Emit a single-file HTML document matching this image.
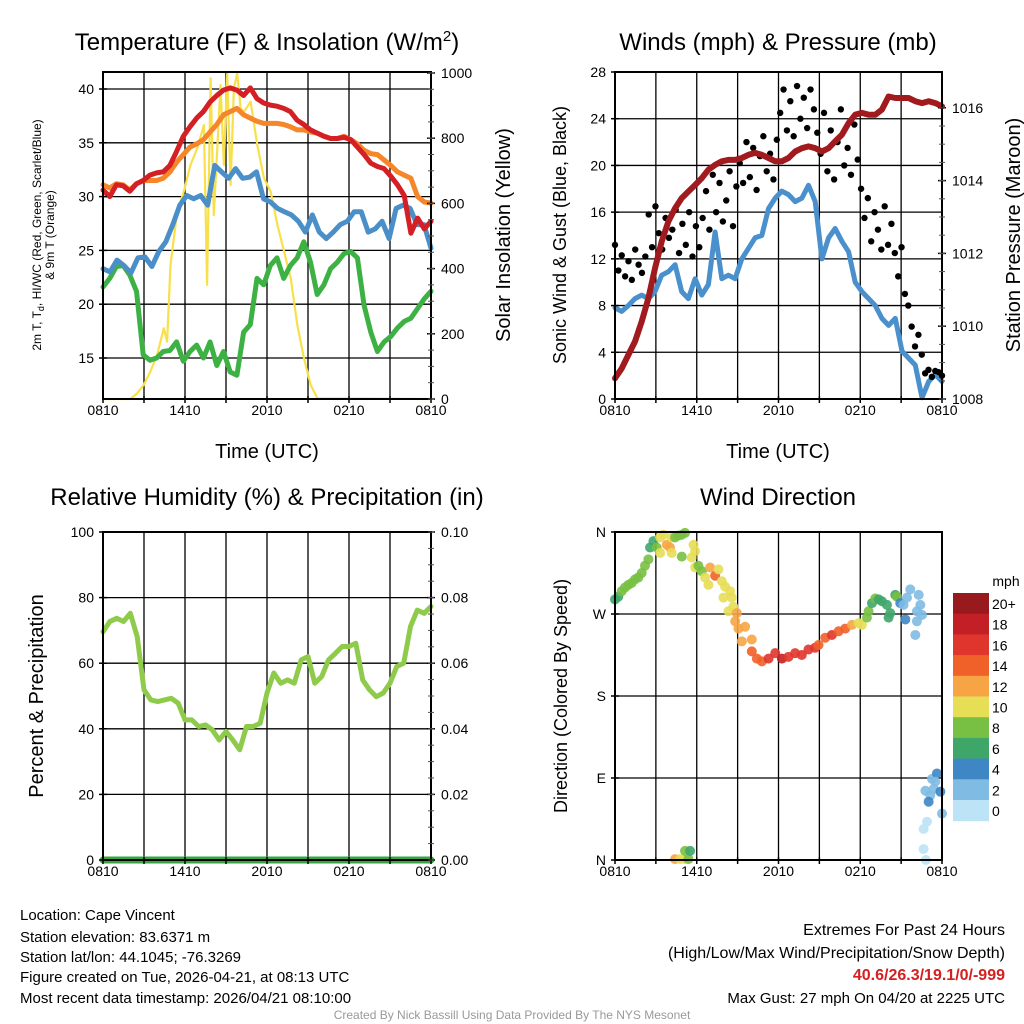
<!DOCTYPE html>
<html><head><meta charset="utf-8">
<style>
html,body{margin:0;padding:0;background:#fff;}
svg{display:block;font-family:"Liberation Sans",sans-serif;}
</style></head>
<body>
<svg id="chart" width="1024" height="1024" viewBox="0 0 1024 1024" xmlns="http://www.w3.org/2000/svg">
<rect x="0" y="0" width="1024" height="1024" fill="#fff"/>
<g id="layer"></g>
<!-- titles -->
<text x="267" y="50" font-size="24" text-anchor="middle">Temperature (F) &amp; Insolation (W/m<tspan dy="-9" font-size="15">2</tspan><tspan dy="9">)</tspan></text>
<text x="778" y="50" font-size="24" text-anchor="middle">Winds (mph) &amp; Pressure (mb)</text>
<text x="267" y="505" font-size="24" text-anchor="middle">Relative Humidity (%) &amp; Precipitation (in)</text>
<text x="778" y="505" font-size="24" text-anchor="middle">Wind Direction</text>
<!-- axis titles -->
<text x="267" y="458" font-size="20" text-anchor="middle">Time (UTC)</text>
<text x="778" y="458" font-size="20" text-anchor="middle">Time (UTC)</text>
<text transform="translate(41,235) rotate(-90)" font-size="12" text-anchor="middle">2m T, T<tspan dy="3" font-size="9">d</tspan><tspan dy="-3">, HI/WC (Red, Green, Scarlet/Blue)</tspan></text>
<text transform="translate(54,235) rotate(-90)" font-size="12" text-anchor="middle">&amp; 9m T (Orange)</text>
<text transform="translate(510,235) rotate(-90)" font-size="20" text-anchor="middle">Solar Insolation (Yellow)</text>
<text transform="translate(566,235) rotate(-90)" font-size="18" text-anchor="middle">Sonic Wind &amp; Gust (Blue, Black)</text>
<text transform="translate(1020,235) rotate(-90)" font-size="20" text-anchor="middle">Station Pressure (Maroon)</text>
<text transform="translate(43,696) rotate(-90)" font-size="20" text-anchor="middle">Percent &amp; Precipitation</text>
<text transform="translate(567,696) rotate(-90)" font-size="18" text-anchor="middle">Direction (Colored By Speed)</text>
<!-- footer -->
<g font-size="15">
<text x="20" y="920">Location: Cape Vincent</text>
<text x="20" y="942">Station elevation: 83.6371 m</text>
<text x="20" y="962">Station lat/lon: 44.1045; -76.3269</text>
<text x="20" y="982">Figure created on Tue, 2026-04-21, at 08:13 UTC</text>
<text x="20" y="1003">Most recent data timestamp: 2026/04/21 08:10:00</text>
</g>
<g font-size="16" text-anchor="end">
<text x="1005" y="935">Extremes For Past 24 Hours</text>
<text x="1005" y="958">(High/Low/Max Wind/Precipitation/Snow Depth)</text>
<text x="1005" y="980" fill="#d42020" font-weight="bold">40.6/26.3/19.1/0/-999</text>
<text x="1005" y="1003" font-size="15">Max Gust: 27 mph On 04/20 at 2225 UTC</text>
</g>
<text x="512" y="1019" font-size="12" fill="#999" text-anchor="middle">Created By Nick Bassill Using Data Provided By The NYS Mesonet</text>
</svg>
<script>
// ---------- data ----------
const xTickLabels = ["0810","1410","2010","0210","0810"];
const tempTicks = [15,20,25,30,35,40];
const solarTicks = [0,200,400,600,800,1000];
const windTicks = [0,4,8,12,16,20,24,28];
const presTicks = [1008,1010,1012,1014,1016];
const rhTicks = [0,20,40,60,80,100];
const precipTicks = ["0.00","0.02","0.04","0.06","0.08","0.10"];
const dirTicks = [0,90,180,270,360];
const dirLabels = ["N","E","S","W","N"];

const tempRed = [30.6,30.0,31.1,31.0,30.5,31.2,31.5,32.0,32.2,32.3,32.9,34.2,35.6,36.5,37.3,37.9,38.8,39.4,39.9,40.1,39.9,39.4,40.1,39.1,38.7,38.5,38.4,38.2,37.9,37.1,36.7,36.2,35.9,35.6,35.4,35.4,35.5,35.3,34.6,33.9,33.1,32.8,32.6,31.9,31.1,30.1,26.6,28.0,27.0,27.7];
const tempOrange = [31.1,30.8,31.2,31.1,30.6,31.2,31.5,31.5,31.5,31.7,32.3,33.2,33.9,34.6,34.9,35.3,36.0,36.7,37.6,37.9,38.2,37.6,37.3,37.0,36.8,36.8,36.8,36.7,36.5,36.2,36.2,36.0,35.9,35.6,35.4,35.4,35.6,35.3,34.9,34.3,34.0,33.9,33.4,32.9,32.3,32.0,31.7,30.0,29.5,29.4];
const tempBlue = [23.3,23.0,24.1,23.6,22.9,24.3,24.4,23.5,24.9,25.8,27.4,29.2,30.1,29.8,30.1,29.2,32.9,32.3,31.7,32.6,31.7,31.8,32.3,29.8,29.5,28.9,28.6,28.3,27.7,26.7,28.3,26.7,26.1,26.7,27.4,27.7,28.6,28.6,26.7,27.0,27.7,26.1,28.9,29.2,28.9,27.4,27.4,25.2];
const tempGreen = [21.6,22.4,23.5,23.6,22.7,21.2,15.3,14.8,15.0,15.6,15.7,16.5,14.7,15.6,16.2,15.0,16.5,14.3,15.6,13.7,13.4,17.4,18.1,22.4,21.8,23.6,24.3,22.4,23.6,24.3,25.8,23.9,20.9,21.8,23.3,23.9,24.7,24.9,24.3,19.9,17.4,15.6,16.5,17.0,17.8,18.4,18.7,19.6,20.5,21.2];
const solarHours = [0,2.0,2.49,2.98,3.47,3.96,4.45,4.69,4.94,5.43,5.91,6.40,6.89,7.38,7.62,7.87,8.11,8.36,8.60,8.85,9.09,9.34,9.58,9.82,10.07,10.31,10.80,11.29,11.78,12.27,12.76,13.25,13.74,14.22,14.71,15.2,15.69,24];
const solarValues = [0,0,17,43,84,135,217,176,411,575,636,718,769,840,350,984,564,769,963,718,999,656,953,999,892,881,912,779,677,636,534,452,370,227,125,43,2,0];

const windSpeed = [7.8,7.5,8.0,8.6,8.9,8.6,9.2,10.6,10.9,11.5,9.2,8.6,10.3,8.9,9.8,14.3,10.3,10.6,10.3,12.0,12.9,13.8,14.0,16.3,17.2,17.8,17.5,16.9,17.2,18.3,16.9,12.0,13.8,14.6,13.5,12.6,10.0,9.2,8.6,8.0,6.9,6.3,6.9,4.1,3.5,2.9,0.1,1.5,2.1,1.5];
const windGust = [13.2,11.0,12.3,10.5,11.8,10.2,12.8,11.5,10.8,12.2,15.8,13.0,16.5,14.2,12.8,15.5,13.8,14.5,16.2,12.5,15.0,13.2,16.0,12.2,14.8,13.0,15.5,17.8,14.5,19.2,16.0,18.5,15.2,17.0,19.5,14.8,18.2,20.2,18.5,22.0,19.0,21.5,17.9,20.8,22.5,19.5,21.0,18.8,22.2,24.5,26.5,23.0,25.5,22.5,26.8,24.0,25.8,23.2,26.5,24.8,22.8,21.0,24.5,19.5,23.0,18.8,22.0,24.8,20.0,21.5,19.2,23.5,20.5,18.0,15.5,17.2,13.5,16.0,14.5,12.8,16.5,13.2,15.0,12.5,10.5,13.0,9.0,8.0,6.2,4.5,5.5,3.8,2.2,2.5,1.9,2.4,2.3,2.0];
const pressure = [1008.57,1008.84,1009.21,1009.58,1010.13,1010.77,1011.59,1012.33,1012.88,1013.24,1013.52,1013.70,1013.88,1014.07,1014.30,1014.43,1014.53,1014.57,1014.57,1014.62,1014.71,1014.76,1014.71,1014.62,1014.53,1014.53,1014.62,1014.80,1014.89,1014.94,1014.89,1014.80,1014.89,1015.08,1015.26,1015.58,1015.81,1015.86,1015.81,1015.81,1015.95,1016.31,1016.27,1016.27,1016.27,1016.18,1016.13,1016.18,1016.13,1016.04];

const rhValues = [69.6,72.7,73.7,72.7,75.2,68.1,51.9,48.8,48.3,48.8,49.3,47.8,42.7,42.7,40.7,41.2,39.7,36.6,39.2,36.6,33.6,40.7,40.7,41.7,50.9,57.0,53.9,54.9,53.9,61.0,62.0,53.9,55.9,61.0,63.0,65.1,65.1,66.1,54.9,51.9,49.8,50.9,53.9,59.0,60.0,71.2,76.2,75.2,77.3];
const precipValues = [0,0,0,0,0,0,0,0,0,0,0,0,0,0,0,0,0,0,0,0,0,0,0,0,0];

const dirHours = [0,0.24,0.49,0.73,0.98,1.22,1.47,1.71,1.96,2.2,2.45,2.57,2.82,3.06,3.31,3.55,3.8,4.04,4.16,4.41,4.65,4.9,5.14,4.9,4.16,3.31,5.76,5.88,5.63,5.88,6.12,6.37,6.61,6.86,6.98,7.35,7.59,7.84,8.08,8.45,7.96,8.57,8.69,8.33,8.94,8.82,9.06,9.55,9.31,10.04,10.04,10.41,10.78,11.27,11.76,12.25,12.73,13.22,13.71,14.2,14.69,14.94,15.43,15.92,16.41,16.9,17.39,17.88,18.12,18.49,18.61,18.86,19.1,19.35,19.59,19.96,20.2,20.08,20.57,20.69,20.94,21.18,21.43,21.67,22.29,22.41,22.16,22.53,22.16,22.04,21.31,4.41,4.78,5.14,5.39,5.14,5.51,23.27,23.63,23.51,22.78,23.14,23.39,23.88,23.02,24,22.9,22.65,22.65,22.82];
const dirDegrees = [286,289,295,299,302,304,308,310,315,323,330,343,350,343,354,357,346,343,354,354,356,357,359,333,337,337,346,339,332,321,323,317,310,302,321,312,319,306,300,295,288,288,278,273,271,262,254,256,240,242,229,221,218,221,227,221,223,227,225,231,233,236,244,247,251,254,258,260,258,266,273,282,287,286,284,280,271,266,291,289,282,280,288,297,291,280,273,269,262,247,264,1,1,1,1,10,10,89,95,86,76,71,78,75,64,51,42,34,12,0];
const dirSpeed = [7,7,8,8,8,8,8,8,8,8,8,7,7,8,10,10,12,13,10,8,9,8,9,8,10,10,10,10,10,10,8,9,10,10,12,14,10,10,11,10,10,10,10,10,12,12,12,13,12,12,14,15,15,16,17,18,17,17,16,17,17,15,15,16,15,14,13,10,10,8,8,7,8,6,6,6,6,6,7,8,4,3,3,3,3,3,3,2,3,2,4,13,10,10,9,8,7,3,4,3,2,3,3,4,4,2,1,1,1,1];
const speedBinLabels = ["0","2","4","6","8","10","12","14","16","18","20+"];
const speedBinColors = ["#bde3f6","#7fbbe3","#3f86c4","#3fa66a","#78c043","#e6de55","#f7a544","#ef6128","#e0352c","#c21f26","#981a1d"];

// ---------- helpers ----------
const NS = "http://www.w3.org/2000/svg";
const layer = document.getElementById("layer");
function mk(tag, parent){ const e = document.createElementNS(NS, tag); (parent||layer).appendChild(e); return e; }
function setA(e, o){ for (const k in o) e.setAttribute(k, o[k]); return e; }

const P1 = {x0:103,x1:431,y0:72,y1:399};
const P2 = {x0:615,x1:942,y0:72,y1:399};
const P3 = {x0:103,x1:431,y0:532,y1:860};
const P4 = {x0:615,x1:942,y0:532,y1:860};
function xH(P,h){ return P.x0 + h/24*(P.x1-P.x0); }
function xIdx(P,i,n){ return xH(P, i/(n-1)*24); }
const yTemp = v => 89 + (40 - v)*10.76;
const ySolar = v => 399 - v*0.326;
const yWind = v => 399 - v*(327/28);
const yPres = v => 399 - (v-1008)*36.4;
const yRH = v => 860 - v*3.28;
const yPrecip = v => 860 - v*3280;
const yDir = v => 860 - v/360*328;

function grid(P, yVals, yfn, name){
  const g = mk("g");
  
  
  for (let k=1;k<8;k++){
    const x = P.x0 + k*(P.x1-P.x0)/8;
    const l = mk("line", g);
    setA(l,{x1:x,x2:x,y1:P.y0,y2:P.y1,stroke:"#000","stroke-width":1.3});
    
    
  }
  yVals.forEach(v=>{
    const y = yfn(v);
    if (y<=P.y0+1 || y>=P.y1-1) return;
    const l = mk("line", g);
    setA(l,{x1:P.x0,x2:P.x1,y1:y,y2:y,stroke:"#000","stroke-width":1.3});
    
    
  });
}
function frame(P, name){
  const r = mk("rect");
  setA(r,{x:P.x0,y:P.y0,width:P.x1-P.x0,height:P.y1-P.y0,fill:"none",stroke:"#000","stroke-width":2});
  
  
  for (let k=0;k<=8;k++){
    const x = P.x0 + k*(P.x1-P.x0)/8;
    const t = mk("line");
    setA(t,{x1:x,x2:x,y1:P.y1-3,y2:P.y1+4,stroke:"#000","stroke-width":1.5});
    
    
  }
  xTickLabels.forEach((s,i)=>{
    const t = mk("text");
    setA(t,{x:P.x0 + i*(P.x1-P.x0)/4, y:P.y1+16, "font-size":14, "text-anchor":"middle"});
    t.textContent = s;
    
    
  });
}
function yLabels(P, vals, labels, yfn, side, name, minorStep, minorFn){
  vals.forEach((v,i)=>{
    const y = yfn(v);
    const t = mk("text");
    const x = side==="left" ? P.x0-9 : P.x1+10;
    setA(t,{x:x, y:y+5, "font-size":14, "text-anchor": side==="left"?"end":"start"});
    t.textContent = labels ? labels[i] : v;
    
    
    const tk = mk("line");
    const xa = side==="left" ? P.x0 : P.x1;
    setA(tk,{x1:xa-4,x2:xa+4,y1:y,y2:y,stroke:"#000","stroke-width":1.5});
    
    
  });
  if (minorStep){
    const lo = vals[0], hi = vals[vals.length-1];
    for (let v=lo; v<=hi+1e-9; v+=minorStep){
      const y = minorFn(v);
      const tk = mk("line");
      const xa = side==="left" ? P.x0 : P.x1;
      setA(tk,{x1:xa-3,x2:xa+3,y1:y,y2:y,stroke:"#555","stroke-width":1});
      
      
    }
  }
}
function line(pts, color, w, name){
  const p = mk("path");
  setA(p,{d:"M"+pts.map(q=>q[0].toFixed(1)+","+q[1].toFixed(1)).join("L"),fill:"none",stroke:color,"stroke-width":w,"stroke-linejoin":"round","stroke-linecap":"round"});
  
  
}
function binColor(s){ let b = Math.floor(s/2); if (b>10) b=10; if (b<0) b=0; return speedBinColors[b]; }

// ---------- panel 1 ----------
grid(P1, tempTicks, yTemp, "temperature");
line(solarHours.map((h,i)=>[xH(P1,h), ySolar(solarValues[i])]), "#f8e04a", 2.2, "solar-insolation-line");
line(tempGreen.map((v,i)=>[xIdx(P1,i,tempGreen.length), yTemp(v)]), "#3db143", 5, "dewpoint-line");
line(tempBlue.map((v,i)=>[xIdx(P1,i,tempBlue.length), yTemp(v)]), "#4b8fc9", 5, "wind-chill-line");
line(tempOrange.map((v,i)=>[xIdx(P1,i,tempOrange.length), yTemp(v)]), "#f5862a", 5, "temp-9m-line");
line(tempRed.map((v,i)=>[xIdx(P1,i,tempRed.length), yTemp(v)]), "#d42024", 5, "temp-2m-line");
frame(P1, "temperature");
yLabels(P1, tempTicks, null, yTemp, "left", "temp-y");
yLabels(P1, solarTicks, null, ySolar, "right", "solar-y", 50, ySolar);

// ---------- panel 2 ----------
grid(P2, windTicks, yWind, "wind");
line(windSpeed.map((v,i)=>[xIdx(P2,i,windSpeed.length), yWind(v)]), "#4a90cc", 5, "sonic-wind-line");
windGust.forEach((v,i)=>{
  const c = mk("circle");
  setA(c,{cx:xIdx(P2,i,windGust.length), cy:yWind(v), r:3.2, fill:"#000"});
  
  
});
line(pressure.map((v,i)=>[xIdx(P2,i,pressure.length), yPres(v)]), "#a01a1e", 6, "pressure-line");
frame(P2, "wind");
yLabels(P2, windTicks, null, yWind, "left", "wind-y");
yLabels(P2, presTicks, null, yPres, "right", "pressure-y", 0.5, yPres);

// ---------- panel 3 ----------
grid(P3, [20,40,60,80], yRH, "humidity");
line(rhValues.map((v,i)=>[xIdx(P3,i,rhValues.length), yRH(v)]), "#8fcb4b", 5, "relative-humidity-line");
line(precipValues.map((v,i)=>[xIdx(P3,i,precipValues.length), yPrecip(v)]), "#3aa53f", 7, "precipitation-line");
frame(P3, "humidity");
yLabels(P3, rhTicks, null, yRH, "left", "rh-y");
yLabels(P3, rhTicks, precipTicks, yRH, "right", "precip-y", 5, yRH);

// ---------- panel 4 ----------
grid(P4, dirTicks, yDir, "direction");
dirHours.forEach((h,i)=>{
  const c = mk("circle");
  setA(c,{cx:xH(P4,h), cy:yDir(dirDegrees[i]), r:5, fill:binColor(dirSpeed[i]), "fill-opacity":0.9});
  
  
});
frame(P4, "direction");
yLabels(P4, dirTicks, dirLabels, yDir, "left", "direction-y");

// colorbar
const cbTop = 593, cbH = 20.7;
const cbt = mk("text");
setA(cbt,{x:1006,y:586,"font-size":14,"text-anchor":"middle"});
cbt.textContent = "mph";


speedBinColors.slice().reverse().forEach((col,k)=>{
  const r = mk("rect");
  setA(r,{x:953,y:cbTop+k*cbH,width:36,height:cbH+0.5,fill:col});
  
  
  const t = mk("text");
  setA(t,{x:992,y:cbTop+k*cbH+16,"font-size":14});
  t.textContent = speedBinLabels[speedBinLabels.length-1-k];
  
  
});
</script>
</body></html>
